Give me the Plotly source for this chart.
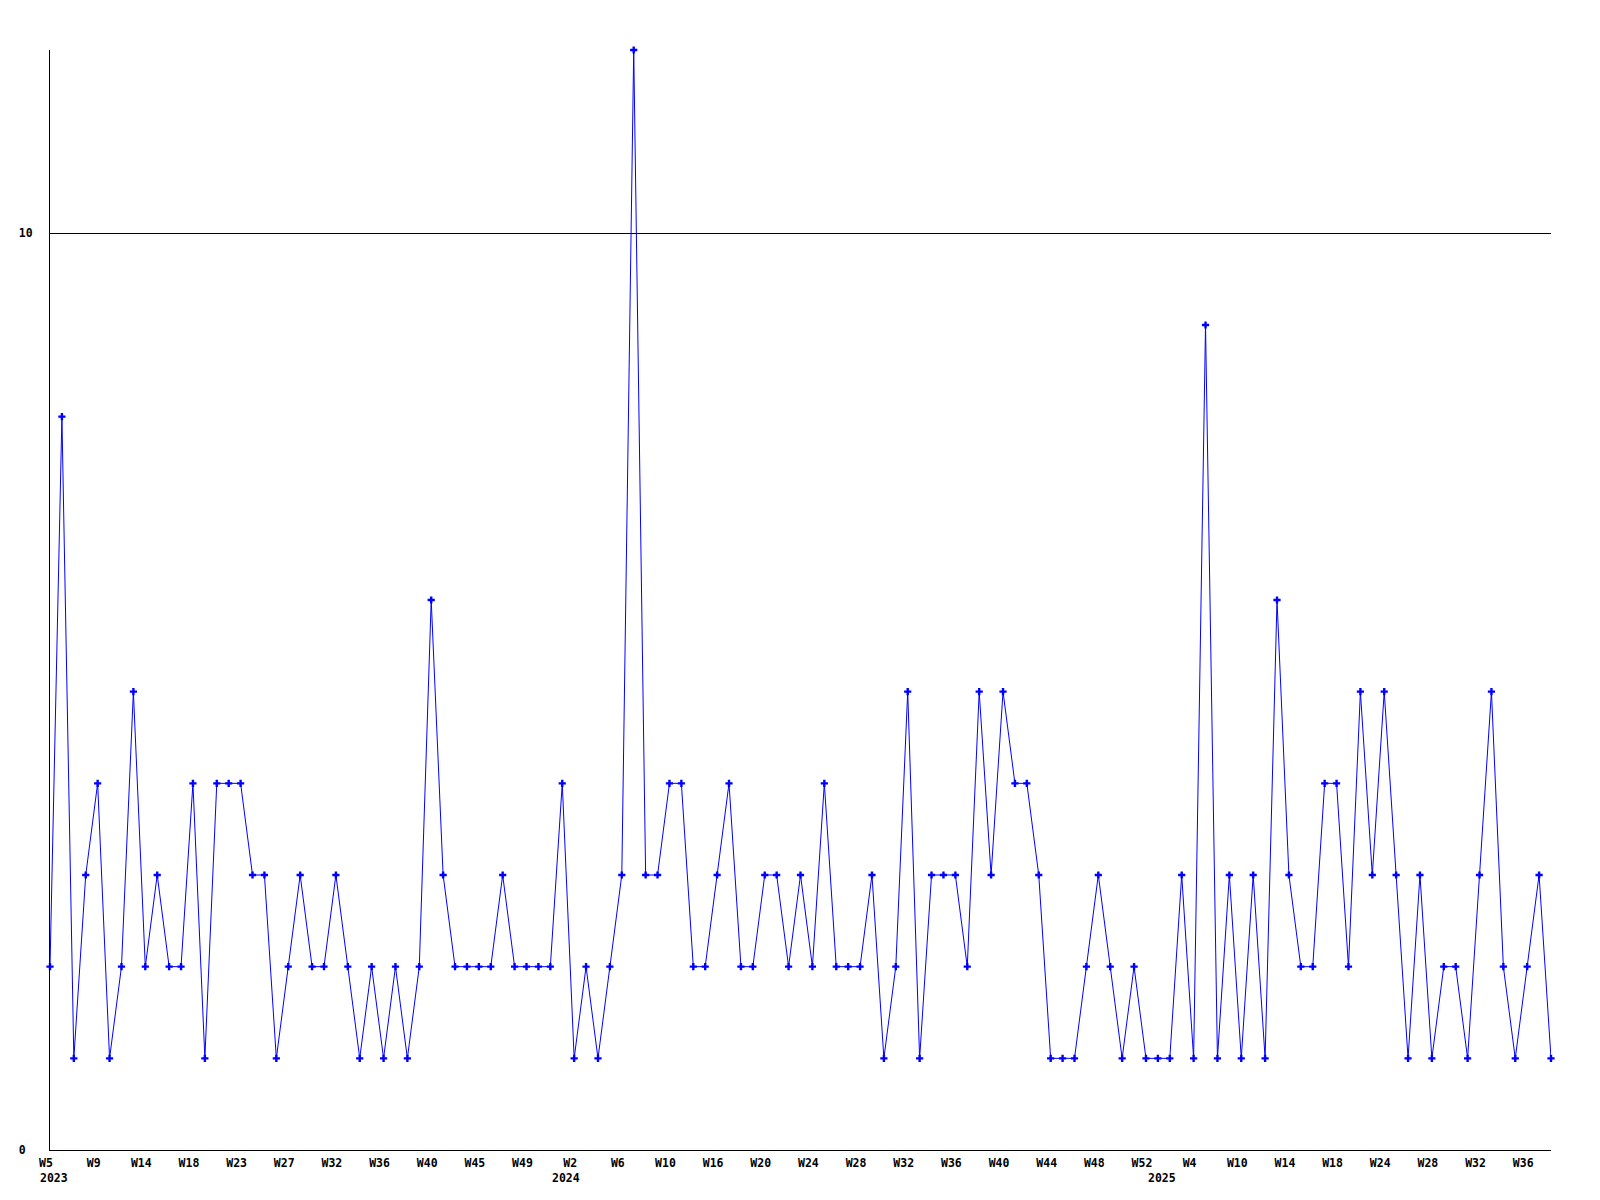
"""Weekly counts, 2023 W5 onwards, drawn with Plotly."""
import plotly.graph_objects as go

# one value per sample, in order
counts = [
    2, 8, 1, 3, 4, 1, 2, 5, 2, 3, 2, 2, 4, 1, 4, 4, 4, 3, 3, 1,
    2, 3, 2, 2, 3, 2, 1, 2, 1, 2, 1, 2, 6, 3, 2, 2, 2, 2, 3, 2,
    2, 2, 2, 4, 1, 2, 1, 2, 3, 12, 3, 3, 4, 4, 2, 2, 3, 4, 2, 2,
    3, 3, 2, 3, 2, 4, 2, 2, 2, 3, 1, 2, 5, 1, 3, 3, 3, 2, 5, 3,
    5, 4, 4, 3, 1, 1, 1, 2, 3, 2, 1, 2, 1, 1, 1, 3, 1, 9, 1, 3,
    1, 3, 1, 6, 3, 2, 2, 4, 4, 2, 5, 3, 5, 3, 1, 3, 1, 2, 2, 1,
    3, 5, 2, 1, 2, 3, 1,
]

# week labels, one on every fourth sample
week_labels = [
    "W5", "W9", "W14", "W18", "W23", "W27", "W32", "W36", "W40", "W45", "W49",
    "W2", "W6", "W10", "W16", "W20", "W24", "W28", "W32", "W36", "W40", "W44",
    "W48", "W52", "W4", "W10", "W14", "W18", "W24", "W28", "W32", "W36",
]
week_step = 4

# year labels and the sample position where each year starts
years = ["2023", "2024", "2025"]
year_pos = [0, 43, 93]

y_ticks = [0, 10]

FONT = dict(family="DejaVu Sans Mono", size=11.5, color="black", weight="bold")

xs = list(range(len(counts)))

fig = go.Figure()
fig.add_trace(go.Scatter(
    x=xs, y=counts, mode="lines+markers",
    line=dict(color="#0000ff", width=1),
    marker=dict(symbol="cross", size=6, color="#0000ff", line=dict(width=0)),
    cliponaxis=False, showlegend=False,
))

for year, pos in zip(years, year_pos):
    fig.add_annotation(
        x=pos, y=0, xref="x", yref="paper", text=year, showarrow=False,
        xanchor="left", yanchor="top", xshift=-12, yshift=-19, font=FONT,
    )

fig.update_xaxes(
    range=[0, len(counts) - 1],
    tickvals=xs[::week_step][:len(week_labels)], ticktext=week_labels,
    ticks="", showgrid=False, zeroline=False,
    showline=True, linecolor="black", linewidth=1,
    tickfont=FONT, ticklabelshift=-4, ticklabelstandoff=2,
)
fig.update_yaxes(
    range=[0, 12], tickvals=y_ticks,
    ticktext=[f"{v}\u00a0" if v < 10 else str(v) for v in y_ticks],
    ticks="", showgrid=True, gridcolor="black", gridwidth=1, zeroline=False,
    showline=True, linecolor="black", linewidth=1,
    tickfont=FONT, ticklabelstandoff=14,
)
fig.update_layout(
    width=1592, height=1192,
    margin=dict(l=42, r=49, t=42, b=50),
    plot_bgcolor="white", paper_bgcolor="white",
)

fig.write_html("out.html")
